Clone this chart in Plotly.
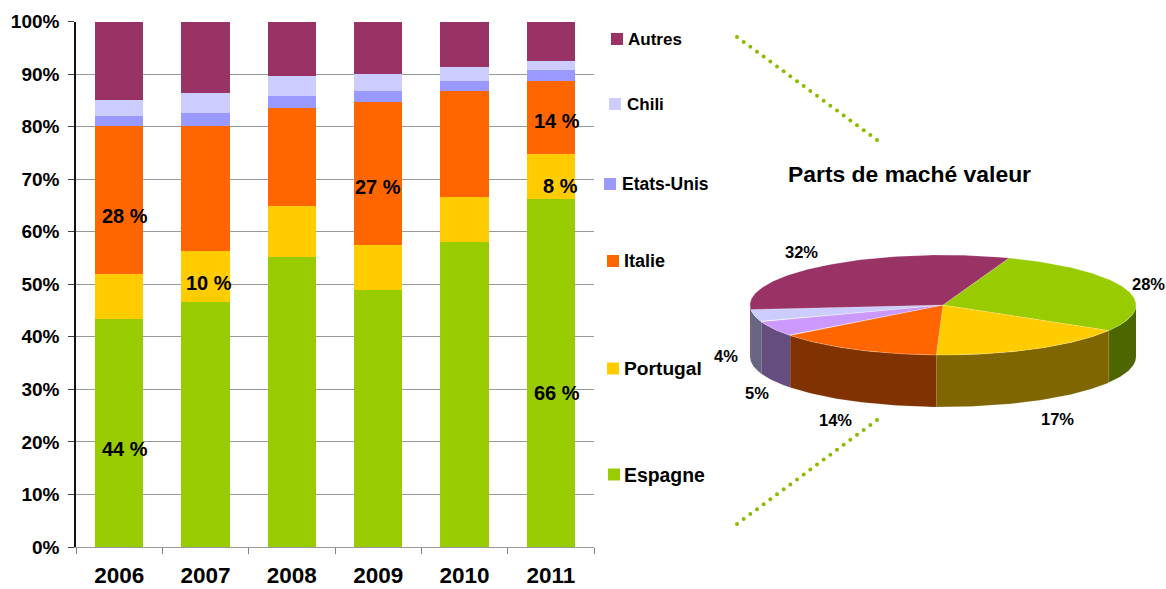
import numpy as np
import plotly.graph_objects as go

W, H = 1166, 589

# ---- data -------------------------------------------------------------
years = ["2006", "2007", "2008", "2009", "2010", "2011"]
espagne = [43.4, 46.6, 55.2, 48.9, 58.0, 66.2]
portugal = [8.6, 9.7, 9.7, 8.5, 8.6, 8.6]
italie = [28.2, 23.9, 18.7, 27.3, 20.1, 13.8]
etats_unis = [1.9, 2.3, 2.3, 2.0, 2.0, 2.1]
chili = [2.9, 3.8, 3.8, 3.3, 2.7, 1.7]
autres = [15.0, 13.7, 10.3, 10.0, 8.6, 7.6]

series_names = ["Espagne", "Portugal", "Italie", "Etats-Unis", "Chili", "Autres"]
series_values = [espagne, portugal, italie, etats_unis, chili, autres]

y_ticks = [0, 10, 20, 30, 40, 50, 60, 70, 80, 90, 100]
y_tick_labels = ["0%", "10%", "20%", "30%", "40%", "50%", "60%", "70%", "80%", "90%", "100%"]

pie_shares = [28, 17, 14, 5, 4, 32]
pie_labels = ["28%", "17%", "14%", "5%", "4%", "32%"]

# ---- styles -----------------------------------------------------------
bar_colors = ["#99CC00", "#FFCC00", "#FF6600", "#9999FF", "#CCCCFF", "#993366"]
pie_top = ["#99CC00", "#FFCC00", "#FF6600", "#CC99FF", "#CCCCFF", "#993366"]
pie_side = ["#4D6600", "#806600", "#803300", "#664D80", "#666680", "#4D1A33"]
FONT = "Liberation Sans"
CLEAR = "rgba(0,0,0,0)"

fig = go.Figure()

# stacked bars
for name, vals, col in zip(series_names, series_values, bar_colors):
    fig.add_trace(go.Bar(x=years, y=vals, name=name, marker=dict(color=col, line=dict(width=0)),
                         showlegend=False, hoverinfo="x+y+name"))

# ---- pseudo-3D pie built from the shares ------------------------------
cx, cy, rx, ry, depth = 943, 305, 193, 50, 52
start = 70.0
angle = start


def ex(a):
    return cx + rx * np.cos(np.radians(a))


def ey(a):
    return cy - ry * np.sin(np.radians(a))


spans = []
for s in pie_shares:
    spans.append((angle, angle - s * 3.6))
    angle -= s * 3.6

# walls (visible only on the front half of the ellipse: angles -180..0)
for (a0, a1), side in zip(spans, pie_side):
    hi, lo = min(a0, 0), max(a1, -180)
    if hi <= lo:
        continue
    t = np.linspace(hi, lo, 60)
    xs = list(ex(t)) + list(ex(t[::-1]))
    ys = list(ey(t)) + list(ey(t[::-1]) + depth)
    fig.add_trace(go.Scatter(x=xs, y=ys, xaxis="x2", yaxis="y2", mode="lines", fill="toself",
                             fillcolor=side, line=dict(color="rgba(255,255,255,0.35)", width=0.5),
                             showlegend=False, hoverinfo="skip"))

# top slices
for (a0, a1), top, name in zip(spans, pie_top, series_names):
    t = np.linspace(a0, a1, 120)
    xs = [cx] + list(ex(t)) + [cx]
    ys = [cy] + list(ey(t)) + [cy]
    fig.add_trace(go.Scatter(x=xs, y=ys, xaxis="x2", yaxis="y2", mode="lines", fill="toself",
                             fillcolor=top, line=dict(color="rgba(255,255,255,0.35)", width=0.5),
                             showlegend=False, name=name, hoverinfo="name"))

# dotted connectors
for (x0, y0, x1, y1) in [(737, 37, 877, 140), (877, 420, 737, 524)]:
    fig.add_trace(go.Scatter(x=np.linspace(x0, x1, 22), y=np.linspace(y0, y1, 22), xaxis="x2", yaxis="y2",
                             mode="markers", marker=dict(color="#8DBB00", size=4),
                             showlegend=False, hoverinfo="skip"))

# hand-placed legend
legend_pos = {
    "Autres": (617, 39, 626, 17),
    "Chili": (615, 104, 625, 17),
    "Etats-Unis": (610, 184, 620, 17.5),
    "Italie": (613, 261, 622, 18),
    "Portugal": (613, 368.5, 622, 19.2),
    "Espagne": (614, 474.5, 622, 19.4),
}
annotations = []
for name, col in zip(series_names, bar_colors):
    mx, my, tx, fs = legend_pos[name]
    fig.add_trace(go.Scatter(x=[mx], y=[my], xaxis="x2", yaxis="y2", mode="markers",
                             marker=dict(symbol="square", size=12, color=col),
                             showlegend=False, hoverinfo="skip"))
    annotations.append(dict(x=tx, y=my, xref="x2", yref="y2", text=f"<b>{name}</b>", showarrow=False,
                            xanchor="left", yanchor="middle", font=dict(size=fs, family=FONT, color="black")))

# bar value labels
for txt, xi, yv in [("44 %", 0.07, 18.6), ("28 %", 0.07, 63), ("10 %", 1.04, 50.2), ("27 %", 3.0, 68.5),
                    ("66 %", 5.07, 29.3), ("8 %", 5.11, 68.7), ("14 %", 5.07, 81)]:
    annotations.append(dict(x=xi, y=yv, xref="x", yref="y", text=f"<b>{txt}</b>", showarrow=False,
                            font=dict(size=20, family=FONT, color="black")))

# pie labels
pie_label_pos = [(1148, 284), (1057, 419), (835, 420), (757, 393), (726, 356), (801, 252)]
for lab, (px, py) in zip(pie_labels, pie_label_pos):
    annotations.append(dict(x=px, y=py, xref="x2", yref="y2", text=f"<b>{lab}</b>", showarrow=False,
                            font=dict(size=16.5, family=FONT, color="black")))

annotations.append(dict(x=909, y=174, xref="x2", yref="y2", text="<b>Parts de maché valeur</b>", showarrow=False,
                        font=dict(size=22.9, family=FONT, color="black")))

fig.update_layout(
    width=W, height=H, margin=dict(l=0, r=0, t=0, b=0, autoexpand=False),
    paper_bgcolor="white", plot_bgcolor=CLEAR,
    barmode="stack", bargap=0.437, showlegend=False,
    font=dict(family=FONT, color="black"),
    annotations=annotations,
    xaxis=dict(domain=[76 / W, 594 / W], type="category", categoryorder="array", categoryarray=years,
               tickson="boundaries", ticks="outside", ticklen=6, tickcolor="#808080", tickwidth=1,
               showline=True, linecolor="#999999", linewidth=1, showgrid=False, zeroline=False,
               tickfont=dict(size=22.5, family=FONT, weight="bold"), ticklabelstandoff=8, fixedrange=True),
    yaxis=dict(domain=[(H - 547) / H, (H - 21.5) / H], range=[0, 100], tickmode="array",
               tickvals=y_ticks, ticktext=y_tick_labels, ticks="outside", ticklen=6, tickcolor="#404040", tickwidth=1,
               showline=True, linecolor="#111111", linewidth=1.5, showgrid=True, gridcolor="#999999", gridwidth=1,
               zeroline=False, tickfont=dict(size=19, family=FONT, weight="bold"), ticklabelstandoff=5,
               fixedrange=True),
    xaxis2=dict(domain=[0, 1], range=[0, W], visible=False, anchor="y2", fixedrange=True),
    yaxis2=dict(domain=[0, 1], range=[H, 0], visible=False, anchor="x2", fixedrange=True),
)

fig.write_html("out.html", config={"displayModeBar": False},
               post_script="document.body.style.margin='0';document.body.style.overflow='hidden';")
